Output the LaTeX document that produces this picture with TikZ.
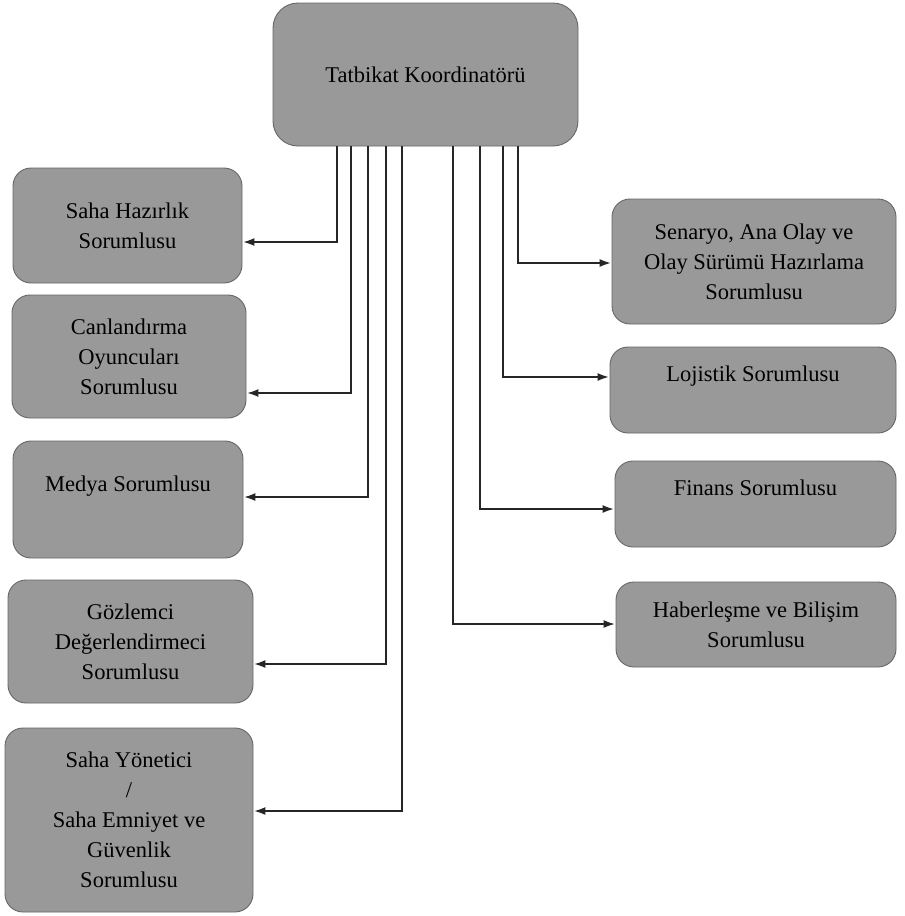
\documentclass[tikz,border=0pt]{standalone}
\usepackage{fontspec}
\setmainfont{Liberation Serif}
\usetikzlibrary{arrows.meta}

\tikzset{
  birim/.style={draw=black!60, fill=black!40, rounded corners=18pt, align=center,
    inner sep=0pt, line width=0.9pt, font=\fontsize{22.5}{30}\selectfont},
  ust/.style={text height=16pt, text depth=33pt},
}

\begin{document}
\begin{tikzpicture}[x=1pt,y=-1pt,->,>={Latex[length=11pt,width=8pt]}]
    \useasboundingbox (0,0) rectangle (905,916);

    % koordinator
    \node[birim, rounded corners=25pt, minimum width=305pt, minimum height=143pt] (koord) at (425.5,74.5) {Tatbikat Koordinatörü};

    % sol taraf
    \node[birim, minimum width=229pt, minimum height=115pt] (saha) at (127.5,225.5) {Saha Hazırlık\\Sorumlusu};
    \node[birim, minimum width=234pt, minimum height=123pt] (canli) at (129,356.5) {Canlandırma\\Oyuncuları\\Sorumlusu};
    \node[birim, ust, minimum width=230pt, minimum height=117pt] (medya) at (128,499.5) {Medya Sorumlusu};
    \node[birim, minimum width=245pt, minimum height=123pt] (gozlem) at (130.5,641.5) {Gözlemci\\Değerlendirmeci\\Sorumlusu};
    \node[birim, minimum width=248pt, minimum height=184pt] (yonetici) at (129,820) {Saha Yönetici\\/\\Saha Emniyet ve\\Güvenlik\\Sorumlusu};

    % sag taraf
    \node[birim, minimum width=284pt, minimum height=125pt] (senaryo) at (754,261.5) {Senaryo, Ana Olay ve\\Olay Sürümü Hazırlama\\Sorumlusu};
    \node[birim, ust, minimum width=286pt, minimum height=86pt] (lojistik) at (753,390) {Lojistik Sorumlusu};
    \node[birim, ust, minimum width=281pt, minimum height=86pt] (finans) at (755.5,504) {Finans Sorumlusu};
    \node[birim, minimum width=280pt, minimum height=85pt] (haber) at (756,624.5) {Haberleşme ve Bilişim\\Sorumlusu};

    % baglantilar
    \begin{scope}[line width=1.1pt, black!85, shorten >=1pt]
      \draw (koord.south -| 337,0) |- (saha.east |- 0,242);
      \draw (koord.south -| 351,0) |- (canli.east |- 0,393);
      \draw (koord.south -| 368,0) |- (medya.east |- 0,497);
      \draw (koord.south -| 386,0) |- (gozlem.east |- 0,664);
      \draw (koord.south -| 402,0) |- (yonetici.east |- 0,811);
      \draw (koord.south -| 453,0) |- (haber.west |- 0,624);
      \draw (koord.south -| 480,0) |- (finans.west |- 0,509);
      \draw (koord.south -| 503,0) |- (lojistik.west |- 0,377);
      \draw (koord.south -| 518,0) |- (senaryo.west |- 0,263);
    \end{scope}
\end{tikzpicture}
\end{document}
